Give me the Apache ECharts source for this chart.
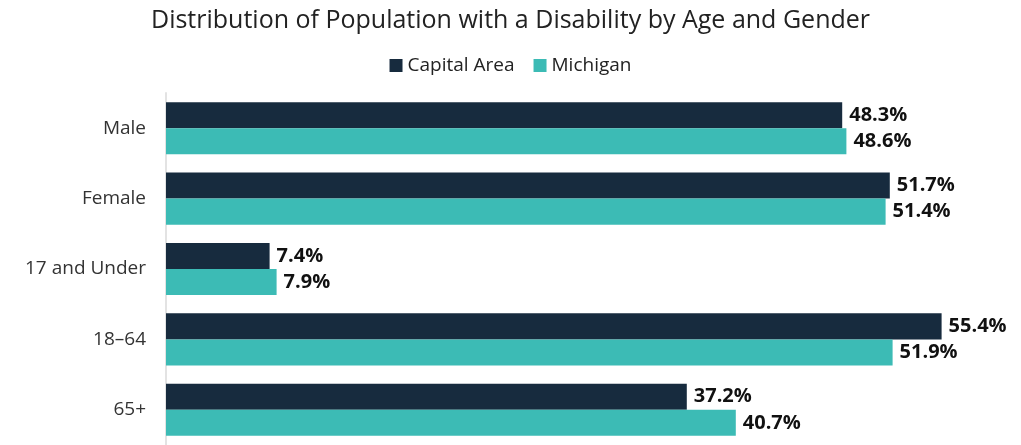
<!DOCTYPE html>
<html>
<head>
<meta charset="utf-8">
<script src="https://cdn.jsdelivr.net/npm/echarts@6/dist/echarts.min.js"></script>
<style>
  html, body { margin: 0; padding: 0; background: #fff; }
  #myChart { width: 1021px; height: 445px; }
</style>
</head>
<body>
<div id="myChart"></div>
<script>
// categories (top to bottom)
var categories = ["Male", "Female", "17 and Under", "18\u201364", "65+"];
// percent values
var capitalArea = [48.3, 51.7, 7.4, 55.4, 37.2];
var michigan = [48.6, 51.4, 7.9, 51.9, 40.7];

var fontFam = "'Open Sans', 'Noto Sans', sans-serif";

function pct(p) {
    return p.value.toFixed(1) + "%";
}

var chart = echarts.init(document.getElementById("myChart"));
chart.setOption({
    animation: false,
    title: {
        text: "Distribution of Population with a Disability by Age and Gender",
        left: "center",
        top: 3,
        textStyle: { fontFamily: fontFam, fontSize: 25, fontWeight: "normal", color: "#222" }
    },
    legend: {
        data: ["Capital Area", "Michigan"],
        top: 51,
        left: "center",
        icon: "rect",
        itemWidth: 13,
        itemHeight: 13,
        itemGap: 19,
        textStyle: { fontFamily: fontFam, fontSize: 19, color: "#222" }
    },
    grid: {
        left: 166,
        right: 15,
        top: 93,
        height: 357,
        containLabel: false
    },
    xAxis: {
        type: "value",
        min: 0,
        max: 60,
        show: false
    },
    yAxis: {
        type: "category",
        inverse: true,
        data: categories,
        axisLine: { show: true, lineStyle: { color: "#e3e3e3", width: 2 } },
        axisTick: { show: false },
        axisLabel: { margin: 20, fontFamily: fontFam, fontSize: 19, color: "#333" }
    },
    series: [
        {
            name: "Capital Area",
            type: "bar",
            data: capitalArea,
            barGap: "0%",
            barCategoryGap: "26%",
            itemStyle: { color: "#172b3e" },
            label: {
                show: true, position: "right", distance: 7, formatter: pct,
                fontFamily: fontFam, fontSize: 20, fontWeight: "bold", color: "#111"
            }
        },
        {
            name: "Michigan",
            type: "bar",
            data: michigan,
            itemStyle: { color: "#3cbbb5" },
            label: {
                show: true, position: "right", distance: 7, formatter: pct,
                fontFamily: fontFam, fontSize: 20, fontWeight: "bold", color: "#111"
            }
        }
    ]
});
</script>
</body>
</html>
